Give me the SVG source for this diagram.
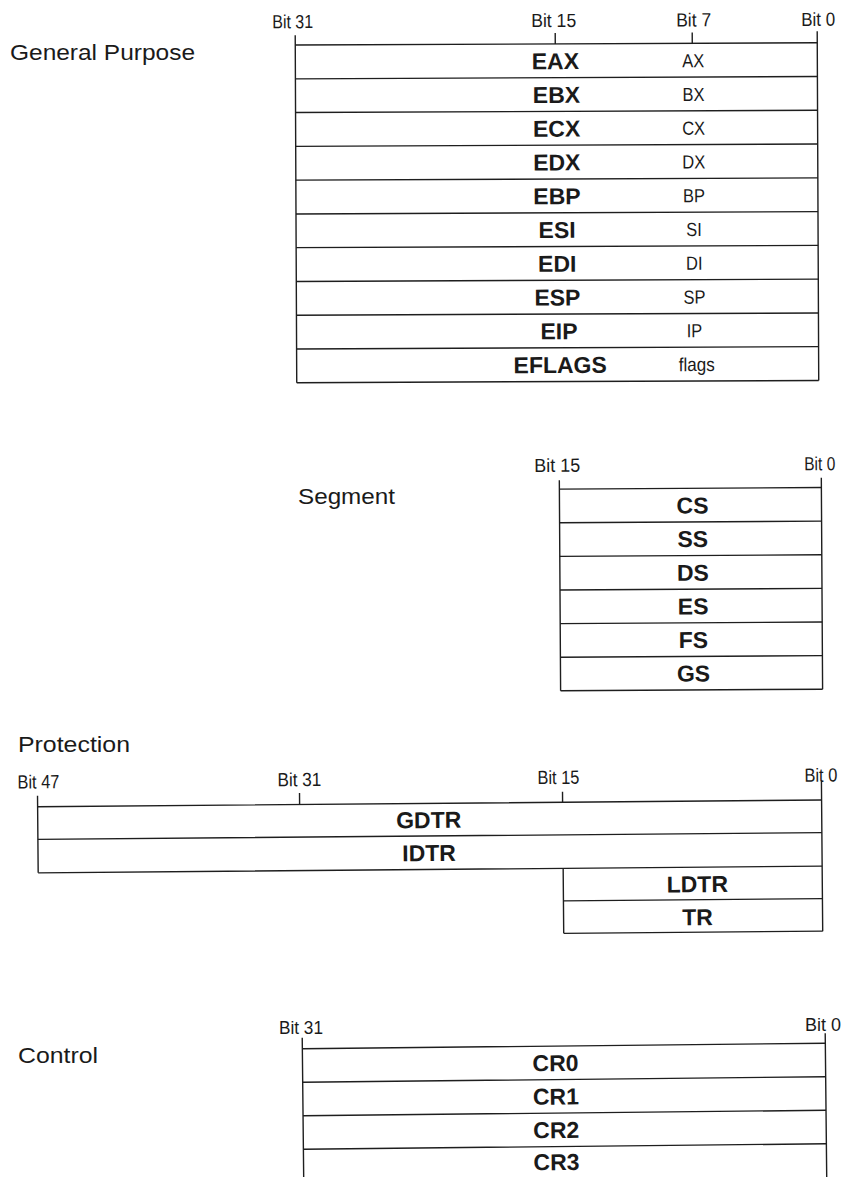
<svg xmlns="http://www.w3.org/2000/svg" width="850" height="1177" viewBox="0 0 850 1177">
<style>
.bg{fill:#fff}
.ln{stroke:#1e1e1e;stroke-width:1.4;fill:none}
.sec{font-family:"Liberation Sans",Arial,sans-serif;font-size:22px;fill:#1a1a1a}
.bit{font-family:"Liberation Sans",Arial,sans-serif;font-size:19px;fill:#1a1a1a}
.reg{font-family:"Liberation Sans",Arial,sans-serif;font-size:23px;font-weight:bold;fill:#1a1a1a;text-anchor:middle}
.sub{font-family:"Liberation Sans",Arial,sans-serif;font-size:19px;fill:#1a1a1a;text-anchor:middle}
.mid{text-anchor:middle}
</style>
<rect class="bg" x="0" y="0" width="850" height="1177"/>

<!-- General Purpose -->
<g id="general-purpose">
<text class="sec" x="10" y="60" textLength="185" lengthAdjust="spacingAndGlyphs">General Purpose</text>
<g transform="rotate(-0.25 557 214)">
<text class="bit" x="273" y="27" textLength="41" lengthAdjust="spacingAndGlyphs">Bit 31</text>
<text class="bit mid" x="554.5" y="27" textLength="45" lengthAdjust="spacingAndGlyphs">Bit 15</text>
<text class="bit mid" x="694.5" y="27" textLength="35" lengthAdjust="spacingAndGlyphs">Bit 7</text>
<text class="bit" x="802" y="27" textLength="34" lengthAdjust="spacingAndGlyphs">Bit 0</text>
<path class="ln" d="M296 34V381.6M818 32.5V381.6M556 33V43.9M693 33V43.9"/>
<path class="ln" d="M296 43.9H818M296 77.7H818M296 111.4H818M296 145.2H818M296 179H818M296 212.8H818M296 246.5H818M296 280.3H818M296 314.1H818M296 347.8H818M296 381.6H818"/>
<g id="eax"><text class="reg" x="556" y="69.1">EAX</text><text class="sub" x="694" y="67.8" textLength="22" lengthAdjust="spacingAndGlyphs">AX</text></g>
<g id="ebx"><text class="reg" x="557" y="102.9">EBX</text><text class="sub" x="694" y="101.6" textLength="22" lengthAdjust="spacingAndGlyphs">BX</text></g>
<g id="ecx"><text class="reg" x="557" y="136.6">ECX</text><text class="sub" x="694" y="135.3" textLength="23" lengthAdjust="spacingAndGlyphs">CX</text></g>
<g id="edx"><text class="reg" x="557" y="170.4">EDX</text><text class="sub" x="694" y="169.1" textLength="23" lengthAdjust="spacingAndGlyphs">DX</text></g>
<g id="ebp"><text class="reg" x="557" y="204.2">EBP</text><text class="sub" x="694" y="202.9" textLength="22" lengthAdjust="spacingAndGlyphs">BP</text></g>
<g id="esi"><text class="reg" x="557" y="237.9">ESI</text><text class="sub" x="694" y="236.6" textLength="15.5" lengthAdjust="spacingAndGlyphs">SI</text></g>
<g id="edi"><text class="reg" x="557" y="271.7">EDI</text><text class="sub" x="694" y="270.4" textLength="16.5" lengthAdjust="spacingAndGlyphs">DI</text></g>
<g id="esp"><text class="reg" x="557" y="305.5">ESP</text><text class="sub" x="694" y="304.2" textLength="22" lengthAdjust="spacingAndGlyphs">SP</text></g>
<g id="eip"><text class="reg" x="558.5" y="339.2">EIP</text><text class="sub" x="694" y="337.9" textLength="15.5" lengthAdjust="spacingAndGlyphs">IP</text></g>
<g id="eflags"><text class="reg" x="559.5" y="373">EFLAGS</text><text class="sub" x="696" y="371.7" textLength="36" lengthAdjust="spacingAndGlyphs">flags</text></g>
</g>
</g>

<!-- Segment -->
<g id="segment">
<text class="sec" x="298" y="504" textLength="97" lengthAdjust="spacingAndGlyphs">Segment</text>
<g transform="rotate(-0.35 691 590)">
<text class="bit mid" x="558" y="471" textLength="46" lengthAdjust="spacingAndGlyphs">Bit 15</text>
<text class="bit" x="805" y="471" textLength="31" lengthAdjust="spacingAndGlyphs">Bit 0</text>
<path class="ln" d="M560 479.5V690M822 478.5V690"/>
<path class="ln" d="M560 488.3H822M560 521.9H822M560 555.6H822M560 589.2H822M560 622.8H822M560 656.4H822M560 690H822"/>
<g id="cs"><text class="reg" x="693" y="513.4">CS</text></g>
<g id="ss"><text class="reg" x="693" y="547">SS</text></g>
<g id="ds"><text class="reg" x="693" y="580.7">DS</text></g>
<g id="es"><text class="reg" x="693" y="614.3">ES</text></g>
<g id="fs"><text class="reg" x="693" y="647.9">FS</text></g>
<g id="gs"><text class="reg" x="693" y="681.5">GS</text></g>
</g>
</g>

<!-- Protection -->
<g id="protection">
<text class="sec" x="18" y="752" textLength="112" lengthAdjust="spacingAndGlyphs">Protection</text>
<g transform="rotate(-0.49 430 850)">
<text class="bit" x="18" y="785" textLength="42" lengthAdjust="spacingAndGlyphs">Bit 47</text>
<text class="bit mid" x="300" y="785" textLength="44" lengthAdjust="spacingAndGlyphs">Bit 31</text>
<text class="bit mid" x="559" y="785" textLength="42" lengthAdjust="spacingAndGlyphs">Bit 15</text>
<text class="bit" x="805" y="785" textLength="33" lengthAdjust="spacingAndGlyphs">Bit 0</text>
<path class="ln" d="M38 792.5V869.5M822 783.5V934.5M563 869.5V934.5M300 792V803.4M563 793V803.4"/>
<path class="ln" d="M38 803.4H822M38 836H822M38 869.5H822M563 902H822M563 934.5H822"/>
<g id="gdtr"><text class="reg" x="429" y="828">GDTR</text></g>
<g id="idtr"><text class="reg" x="429" y="861">IDTR</text></g>
<g id="ldtr"><text class="reg" x="697" y="894.5">LDTR</text></g>
<g id="tr"><text class="reg" x="697" y="927.5">TR</text></g>
</g>
</g>

<!-- Control -->
<g id="control">
<text class="sec" x="18" y="1063" textLength="80" lengthAdjust="spacingAndGlyphs">Control</text>
<text class="bit" x="279" y="1034" textLength="44" lengthAdjust="spacingAndGlyphs">Bit 31</text>
<text class="bit" x="805" y="1031" textLength="36" lengthAdjust="spacingAndGlyphs">Bit 0</text>
<g transform="rotate(-0.6 564 1110)">
<path class="ln" d="M303 1035V1185M826 1036V1185"/>
<path class="ln" d="M303 1046H826M303 1079.5H826M303 1113H826M303 1146.5H826"/>
<g id="cr0"><text class="reg" x="556" y="1071">CR0</text></g>
<g id="cr1"><text class="reg" x="556" y="1104.5">CR1</text></g>
<g id="cr2"><text class="reg" x="556" y="1138">CR2</text></g>
<g id="cr3"><text class="reg" x="556" y="1170">CR3</text></g>
</g>
</g>
</svg>
